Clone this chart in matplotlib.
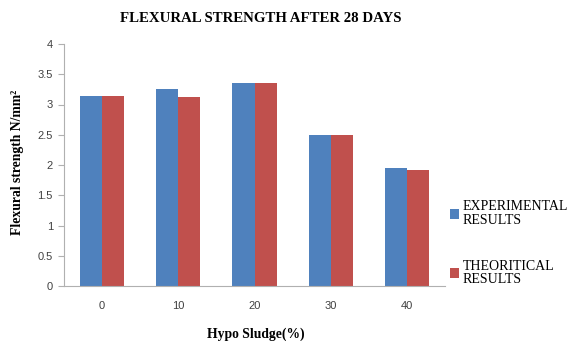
import matplotlib.pyplot as plt
import numpy as np

sludge = ['0', '10', '20', '30', '40']
experimental = [3.14, 3.25, 3.36, 2.49, 1.95]
theoretical = [3.14, 3.12, 3.36, 2.49, 1.92]

blue = '#4F81BD'
red = '#C0504D'

fig = plt.figure(figsize=(5.71, 3.41), dpi=100)
ax = fig.add_axes([64 / 571, 1 - 286 / 341, 381 / 571, 242 / 341])

x = np.arange(len(sludge))
w = 0.29
ax.bar(x - w / 2, experimental, w, color=blue, label='EXPERIMENTAL\nRESULTS')
ax.bar(x + w / 2, theoretical, w, color=red, label='THEORITICAL\nRESULTS')

ax.set_xlim(-0.5, len(sludge) - 0.5)
ax.set_ylim(0, 4)
ax.set_yticks(np.arange(0, 4.01, 0.5))
ax.set_yticklabels(['0', '0.5', '1', '1.5', '2', '2.5', '3', '3.5', '4'])
ax.set_xticks(x)
ax.set_xticklabels(sludge)
ax.tick_params(axis='y', length=4, color='#B0B0B0', labelsize=8, labelcolor='#404040', pad=4)
ax.tick_params(axis='x', length=0, labelsize=8, labelcolor='#404040', pad=11)
for lab in ax.get_xticklabels() + ax.get_yticklabels():
    lab.set_fontfamily('Liberation Sans')

for s in ['top', 'right']:
    ax.spines[s].set_visible(False)
ax.spines['left'].set_color('#B0B0B0')
ax.spines['bottom'].set_color('#B0B0B0')

fig.text(261 / 571, 1 - 19 / 341, 'FLEXURAL STRENGTH AFTER 28 DAYS', ha='center', va='center',
         fontfamily='Liberation Serif', fontweight='bold', fontsize=10.7)
fig.text(18 / 571, 1 - 162 / 341, 'Flexural strength N/mm²', rotation=90, ha='center', va='center',
         fontfamily='Liberation Serif', fontweight='bold', fontsize=9.8)
fig.text(256 / 571, 1 - 334 / 341, 'Hypo Sludge(%)', ha='center', va='center',
         fontfamily='Liberation Serif', fontweight='bold', fontsize=9.8)

leg = fig.legend(loc='upper left', bbox_to_anchor=(437 / 571, 1 - 188 / 341), frameon=False,
                 handlelength=0.7, handleheight=0.7, handletextpad=0.25, labelspacing=2.4,
                 prop={'family': 'Liberation Serif', 'size': 10})
for t in leg.get_texts():
    t.set_linespacing(1.0)

fig.savefig('out.png', dpi=100)
